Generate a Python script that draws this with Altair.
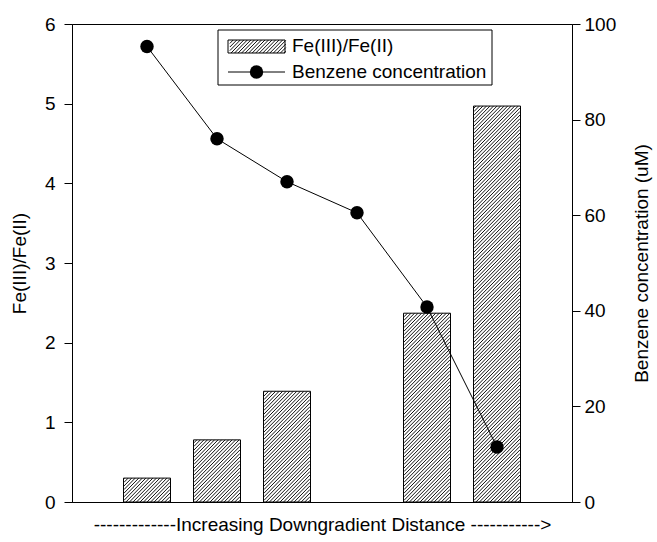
import altair as alt
import pandas as pd

# ---- data ----
positions = [1, 2, 3, 4, 5, 6]
fe_ratio = [0.30, 0.78, 1.39, None, 2.37, 4.97]
benzene = [95.3, 76.0, 67.0, 60.5, 40.8, 11.5]
left_ticks = [0, 1, 2, 3, 4, 5, 6]
right_ticks = [0, 20, 40, 60, 80, 100]
legend_labels = ["Fe(III)/Fe(II)", "Benzene concentration"]
x_title = "-------------Increasing Downgradient Distance ----------->"
left_title = "Fe(III)/Fe(II)"
right_title = "Benzene concentration (uM)"

# ---- layout ----
W, H = 500, 478
X_MAX, Y_MAX = 7, 6
PX_X = W / X_MAX
PX_Y = H / Y_MAX
BAR_PX = 47
HATCH_STEP = 3.6
FONT = "Liberation Sans"
FS = 19


def hatch_segments(xl, xr, yb, yt, step):
    """Diagonal '/' hatch lines inside a pixel rectangle (y measured upward)."""
    segs = []
    w, h = xr - xl, yt - yb
    k = -w + step / 2
    while k < h:
        xs = max(xl, xl - k)
        xe = min(xr, xl - k + h)
        if xe > xs:
            segs.append((xs, yb + xs - xl + k, xe, yb + xe - xl + k))
        k += step
    return segs


bar_df = pd.DataFrame({"pos": positions, "fe": fe_ratio}).dropna()
ben_df = pd.DataFrame({"pos": positions, "benzene": benzene})

rows = []
for p, v in zip(bar_df["pos"], bar_df["fe"]):
    cx = p * PX_X
    for xs, ys, xe, ye in hatch_segments(cx - BAR_PX / 2, cx + BAR_PX / 2, 0, v * PX_Y, HATCH_STEP):
        rows.append({"x0": xs / PX_X, "y0": ys / PX_Y, "x1": xe / PX_X, "y1": ye / PX_Y})

# legend swatch (pixel box inside plot area, y from top)
SW_X0, SW_X1, SW_Y0, SW_Y1 = 156, 213, 16, 29
for xs, ys, xe, ye in hatch_segments(SW_X0, SW_X1, H - SW_Y1, H - SW_Y0, HATCH_STEP):
    rows.append({"x0": xs / PX_X, "y0": ys / PX_Y, "x1": xe / PX_X, "y1": ye / PX_Y})
hatch_df = pd.DataFrame(rows)

x_scale = alt.Scale(domain=[0, X_MAX], nice=False, zero=False)
x_axis = alt.Axis(
    title=x_title, ticks=False, labels=False, grid=False, domain=True,
    titleFontSize=FS, titleFontWeight="normal", titlePadding=13,
    titleFont=FONT, titleColor="black", domainColor="black",
)
yl_scale = alt.Scale(domain=[0, Y_MAX], nice=False, zero=True)
yl_axis = alt.Axis(
    title=left_title, values=left_ticks, orient="left", grid=False,
    tickSize=8, labelPadding=9, labelFontSize=FS, labelFont=FONT,
    titleFontSize=FS, titleFont=FONT, titleFontWeight="normal", titlePadding=15,
    labelColor="black", tickColor="black", domainColor="black", titleColor="black",
)
yr_axis = alt.Axis(
    title=right_title, values=right_ticks, orient="right", grid=False,
    tickSize=8, labelPadding=4, labelFontSize=FS, labelFont=FONT,
    titleFontSize=FS, titleFont=FONT, titleFontWeight="normal", titlePadding=17,
    titleAngle=270, titleBaseline="top",
    labelColor="black", tickColor="black", domainColor="black", titleColor="black",
)

bars = alt.Chart(bar_df).mark_bar(size=BAR_PX, fill="white", stroke="black", strokeWidth=1).encode(
    x=alt.X("pos:Q", scale=x_scale, axis=x_axis),
    y=alt.Y("fe:Q", scale=yl_scale, axis=yl_axis),
)
hatch = alt.Chart(hatch_df).mark_rule(stroke="#111111", strokeWidth=1).encode(
    x=alt.X("x0:Q", scale=x_scale, axis=x_axis),
    x2="x1:Q",
    y=alt.Y("y0:Q", scale=yl_scale, axis=yl_axis),
    y2="y1:Q",
)
left_layer = alt.layer(bars, hatch)

yr_scale = alt.Scale(domain=[0, 100], nice=False, zero=True)
line = alt.Chart(ben_df).mark_line(color="black", strokeWidth=1).encode(
    x=alt.X("pos:Q", scale=x_scale, axis=x_axis),
    y=alt.Y("benzene:Q", scale=yr_scale, axis=yr_axis),
)
pts = alt.Chart(ben_df).mark_circle(color="black", opacity=1, size=180).encode(
    x=alt.X("pos:Q", scale=x_scale, axis=x_axis),
    y=alt.Y("benzene:Q", scale=yr_scale, axis=yr_axis),
)
right_layer = alt.layer(line, pts)

one = pd.DataFrame({"a": [0]})
legend_box = alt.Chart(one).mark_rect(fillOpacity=0, stroke="black", strokeWidth=1).encode(
    x=alt.value(146), x2=alt.value(420), y=alt.value(6), y2=alt.value(61)
)
swatch = alt.Chart(one).mark_rect(fillOpacity=0, stroke="black", strokeWidth=1).encode(
    x=alt.value(SW_X0), x2=alt.value(SW_X1), y=alt.value(SW_Y0), y2=alt.value(SW_Y1)
)
sample_line = alt.Chart(one).mark_rule(color="black", strokeWidth=1).encode(
    x=alt.value(156), x2=alt.value(213), y=alt.value(48)
)
sample_dot = alt.Chart(one).mark_circle(color="black", opacity=1, size=180).encode(
    x=alt.value(184.5), y=alt.value(48)
)
leg_text1 = alt.Chart(pd.DataFrame({"label": [legend_labels[0]]})).mark_text(
    align="left", baseline="middle", fontSize=FS, font=FONT, color="black"
).encode(x=alt.value(220), y=alt.value(22), text="label:N")
leg_text2 = alt.Chart(pd.DataFrame({"label": [legend_labels[1]]})).mark_text(
    align="left", baseline="middle", fontSize=FS, font=FONT, color="black"
).encode(x=alt.value(220), y=alt.value(48), text="label:N")

chart = (
    alt.layer(left_layer, right_layer, legend_box, swatch, sample_line, sample_dot, leg_text1, leg_text2)
    .resolve_scale(y="independent")
    .properties(
        width=W, height=H,
        autosize=alt.AutoSizeParams(type="none"),
        padding={"left": 72, "top": 24, "right": 85, "bottom": 40},
        background="white",
    )
    .configure_view(stroke="black", strokeWidth=1)
)

chart.save("out.html", embed_options={"renderer": "svg", "actions": False})
